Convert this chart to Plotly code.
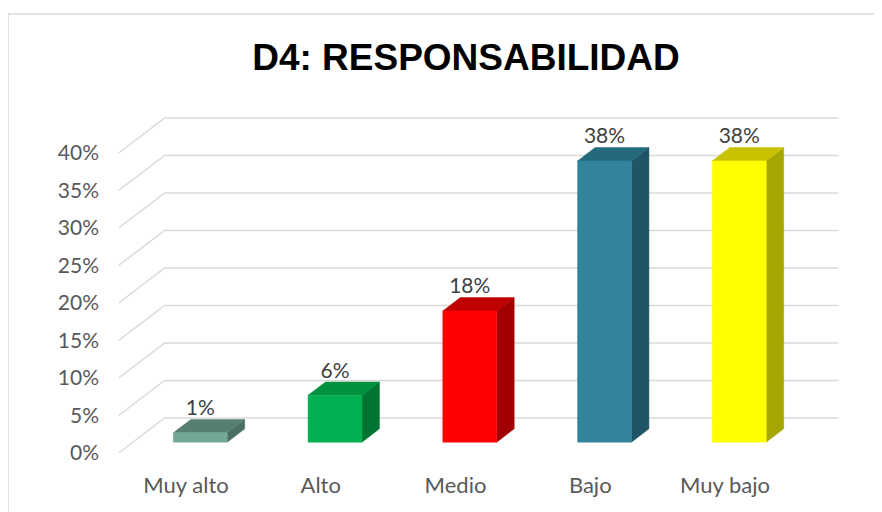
"""D4: Responsabilidad - pseudo 3D column chart."""
import plotly.graph_objects as go

# ---- data --------------------------------------------------------------------

categories = ["Muy alto", "Alto", "Medio", "Bajo", "Muy bajo"]
values = [1.25, 6.25, 17.5, 37.5, 37.5]          # percent
labels = ["1%", "6%", "18%", "38%", "38%"]
y_ticks = [0, 5, 10, 15, 20, 25, 30, 35, 40]

FRONT = ["#73A899", "#00B050", "#FF0000", "#31849B", "#FFFF00"]
TOP = ["#577F71", "#00913F", "#C00000", "#246A7C", "#C9C200"]
SIDE = ["#4A6E61", "#007432", "#A00000", "#1F5566", "#A6A600"]

# page body has an 8px margin, so everything is laid out 8px up/left
OFF = 8

# ---- 3D projection helpers (one depth unit = 46px right, 35px up) -----------

PX_X = 134.75    # pixels per category
PX_Y = 7.5       # pixels per percent
DX = 46 / PX_X
DY = 35 / PX_Y
D0, D1 = 0.31, 0.69   # bar depth (front, back)
HALF = 0.2            # half bar width in category units
X0_PX, Y0_PX = 186 - OFF, 453 - OFF   # pixel of category 0 / 0% on the front plane

fig = go.Figure()

# grid: diagonal lines on the side wall + horizontal lines on the back wall
gx, gy = [], []
for t in y_ticks:
    gx += [-0.5, -0.5 + DX, 4.5 + DX, None]
    gy += [t, t + DY, t + DY, None]
fig.add_trace(go.Scatter(x=gx, y=gy, mode="lines", line=dict(color="#D9D9D9", width=1.5),
                         hoverinfo="skip", showlegend=False))

for i, v in enumerate(values):
    a = i + D0 * DX - HALF
    b = i + D0 * DX + HALF
    y0 = D0 * DY
    s = (D1 - D0) * DX
    t = (D1 - D0) * DY
    faces = [
        ([b, b + s, b + s, b, b], [y0, y0 + t, y0 + t + v, y0 + v, y0], SIDE[i]),
        ([a, b, b + s, a + s, a], [y0 + v, y0 + v, y0 + v + t, y0 + v + t, y0 + v], TOP[i]),
        ([a, b, b, a, a], [y0, y0, y0 + v, y0 + v, y0], FRONT[i]),
    ]
    for fx, fy, col in faces:
        fig.add_trace(go.Scatter(x=fx, y=fy, mode="lines", fill="toself", fillcolor=col,
                                 line=dict(color=col, width=0.5), hoverinfo="skip",
                                 showlegend=False))

# data labels
fig.add_trace(go.Scatter(
    x=[i + D0 * DX for i in range(len(values))],
    y=[D0 * DY + v + 23 / PX_Y for v in values],
    mode="text",
    text=labels,
    textposition="middle center",
    textfont=dict(family="Lato, Open Sans, sans-serif", size=21, color="#404040"),
    hoverinfo="skip",
    showlegend=False,
))

L, R, T, B = 100 - OFF, 850 - OFF, 100 - OFF, 470 - OFF
xa = (L - X0_PX) / PX_X
ya = (B - Y0_PX) / PX_Y * -1

fig.add_shape(type="rect", xref="paper", yref="paper",
              x0=(8 - OFF - L) / (R - L), x1=(895 - L) / (R - L),
              y0=(B - 530) / (B - T), y1=(B - 14 + OFF) / (B - T),
              line=dict(color="#D9D9D9", width=1.5), fillcolor="rgba(0,0,0,0)", layer="below")

fig.update_layout(
    width=882,
    height=512,
    margin=dict(l=L, r=882 - R, t=T, b=512 - B),
    paper_bgcolor="white",
    plot_bgcolor="white",
    title=dict(text="<b>D4: RESPONSABILIDAD</b>", x=(466 - OFF) / 882, xanchor="center",
               y=1 - (57 - OFF) / 512, yanchor="middle",
               font=dict(family="Liberation Sans, Arial, sans-serif", size=37, color="black")),
    xaxis=dict(range=[xa, xa + (R - L) / PX_X], tickvals=list(range(len(categories))),
               ticktext=categories, showgrid=False, zeroline=False, showline=False, ticks="",
               tickfont=dict(family="Lato, Open Sans, sans-serif", size=22, color="#595959")),
    yaxis=dict(range=[ya, ya + (B - T) / PX_Y],
               tickvals=y_ticks, ticktext=[f"{t}%" for t in y_ticks],
               showgrid=False, zeroline=False, showline=False, ticks="",
               tickfont=dict(family="Lato, Open Sans, sans-serif", size=21, color="#595959")),
)

fig.write_html("out.html")
